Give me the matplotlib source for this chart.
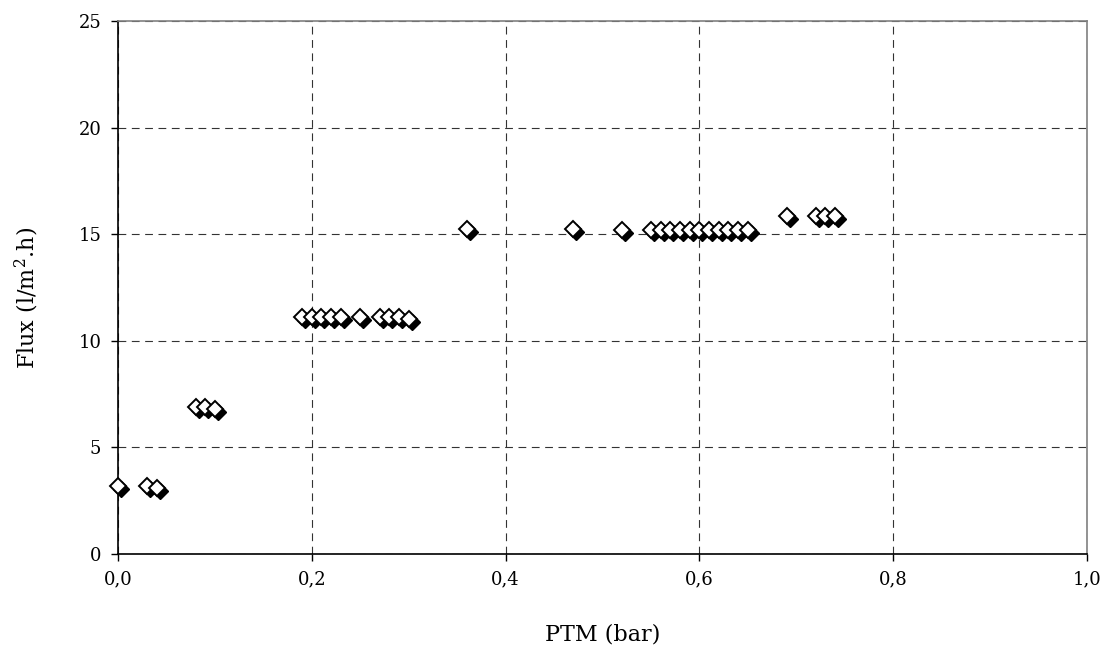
import matplotlib
matplotlib.use("Agg")
import matplotlib.pyplot as plt
import matplotlib.transforms as mtransforms

# PTM (bar) vs flux (l/m2.h)
ptm = [0.00, 0.03, 0.04,
       0.08, 0.09, 0.10,
       0.19, 0.20, 0.21, 0.22, 0.23, 0.25, 0.27, 0.28, 0.29, 0.30,
       0.36, 0.47, 0.52,
       0.55, 0.56, 0.57, 0.58, 0.59, 0.60, 0.61, 0.62, 0.63, 0.64, 0.65,
       0.69, 0.72, 0.73, 0.74]
flux = [3.2, 3.2, 3.1,
        6.9, 6.9, 6.8,
        11.1, 11.1, 11.1, 11.1, 11.1, 11.1, 11.1, 11.1, 11.1, 11.0,
        15.25, 15.25, 15.2,
        15.2, 15.2, 15.2, 15.2, 15.2, 15.2, 15.2, 15.2, 15.2, 15.2, 15.2,
        15.85, 15.85, 15.85, 15.85]

xticks = [0.0, 0.2, 0.4, 0.6, 0.8, 1.0]
xticklabels = ["0,0", "0,2", "0,4", "0,6", "0,8", "1,0"]
yticks = [0, 5, 10, 15, 20, 25]

plt.rcParams["font.family"] = "DejaVu Serif"
plt.rcParams["mathtext.fontset"] = "dejavuserif"

fig = plt.figure(figsize=(11.09, 6.46), dpi=100)
ax = fig.add_axes([0.1064, 0.1424, 0.8738, 0.8251])

# black shadow slightly down-right, white diamond on top
shadow = mtransforms.offset_copy(ax.transData, fig=fig, x=3, y=-3, units="dots")
ax.plot(ptm, flux, linestyle="none", marker="D", markersize=7.8,
        color="black", transform=shadow, zorder=3, clip_on=False)
ax.plot(ptm, flux, linestyle="none", marker="D", markersize=7.8,
        markerfacecolor="white", markeredgecolor="black", markeredgewidth=1.4,
        zorder=4, clip_on=False)

ax.set_xlim(0, 1.0)
ax.set_ylim(0, 25)
ax.set_xticks(xticks)
ax.set_xticklabels(xticklabels)
ax.set_yticks(yticks)
ax.tick_params(direction="out", length=5, width=1, labelsize=13, pad=7)

ax.grid(True, color="#333333", linestyle=(0, (7, 5)), linewidth=0.8)
ax.set_axisbelow(True)

for side in ("left", "bottom"):
    ax.spines[side].set_color("black")
    ax.spines[side].set_linewidth(1.2)
for side in ("top", "right"):
    ax.spines[side].set_color("#808080")
    ax.spines[side].set_linewidth(1.2)

ax.set_xlabel("PTM (bar)", fontsize=16)
ax.set_ylabel("Flux (l/m$^2$.h)", fontsize=16)
ax.xaxis.set_label_coords(0.5, -0.13)
ax.yaxis.set_label_coords(-0.079, 0.48)

fig.savefig("out.png", dpi=100)
